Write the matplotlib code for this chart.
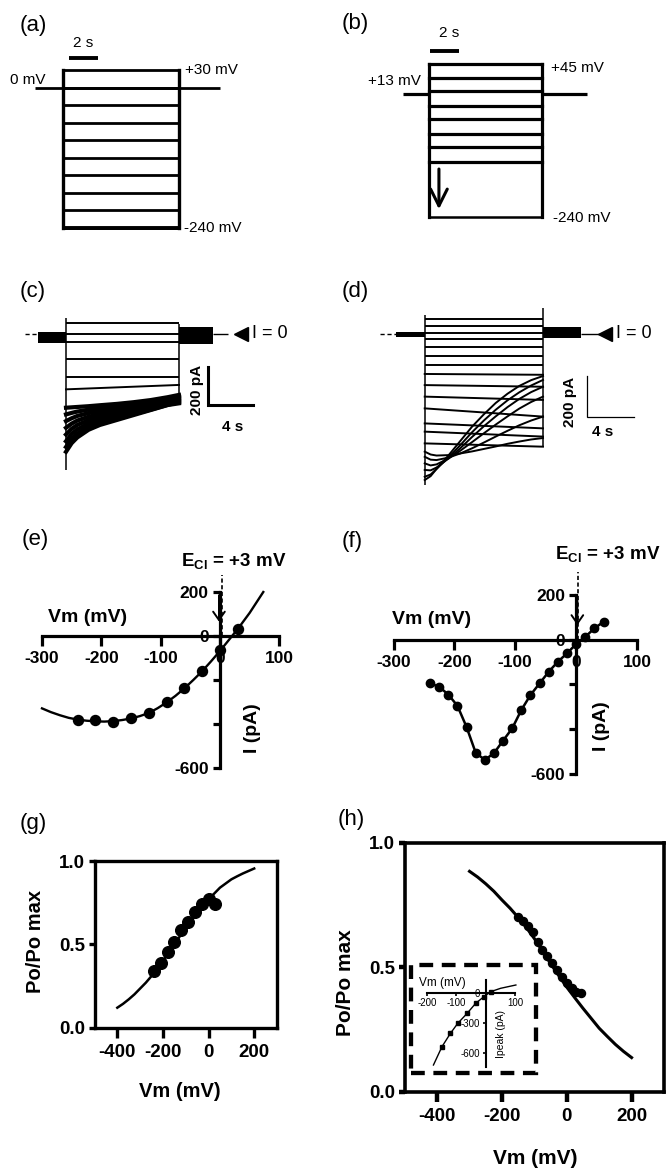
import matplotlib
matplotlib.use("Agg")
import matplotlib.pyplot as plt
from matplotlib.patches import Rectangle

W, H = 667, 1174
INK = "black"

# ---------------- values ----------------
# (a) step protocol from 0 mV holding, 30 mV steps
a_levels_mv = [30, 0, -30, -60, -90, -120, -150, -180, -210, -240]
a_hold_mv = 0
a_step_s = (0, 8)
a_hold_s = (-1.9, 10.8)

# (b) protocol from +13 mV holding (schematic, lines at their drawn height)
b_levels_mv = [45, 19, -6, -33, -58, -86, -110, -138, -240]
b_hold_mv = -11
b_step_s = (0, 8)
b_hold_s = (-1.85, 11.15)

# (c) current traces, pA
c_flat_i = [56, 0, -40, -132, -223]
c_slow_i = (-289, -266)
c_t = [0, 0.5, 1, 2, 3, 4.5, 6, 7.5, 9, 10]
c_decay_i = [
    [-385, -383, -381, -377, -372, -365, -356, -345, -330, -318],
    [-420, -412, -405, -395, -387, -377, -366, -353, -337, -325],
    [-455, -440, -428, -413, -402, -390, -378, -362, -345, -332],
    [-490, -468, -452, -432, -418, -403, -389, -372, -353, -338],
    [-525, -495, -475, -450, -434, -416, -400, -381, -360, -344],
    [-560, -522, -498, -468, -449, -429, -411, -389, -366, -350],
    [-590, -548, -520, -485, -463, -440, -418, -395, -370, -356],
    [-615, -570, -540, -500, -475, -449, -423, -397, -371, -362],
]
c_edges_i = [(84, -710), (50, -362)]
c_hold_band = (-47, 10)
c_tail_band = (-54, 38)

# (d) current traces, pA
d_flat_i = [71, 39, 3, -26, -65, -107, -150]
d_slow_i = [(-194, -198), (-248, -256), (-304, -320), (-361, -401),
            (-434, -458), (-474, -498), (-531, -547)]
d_t = [0, 0.5, 1, 2, 3, 4, 5, 6, 7, 8, 9, 10]
d_inact_i = [
    [-709, -690, -655, -590, -520, -450, -390, -335, -290, -252, -224, -204],
    [-693, -682, -655, -600, -540, -477, -420, -368, -322, -283, -250, -223],
    [-660, -662, -648, -605, -555, -500, -448, -400, -355, -315, -282, -256],
    [-628, -638, -633, -605, -567, -525, -482, -440, -400, -362, -330, -304],
    [-596, -610, -612, -600, -580, -555, -527, -498, -470, -443, -420, -401],
    [-571, -585, -590, -588, -580, -570, -558, -546, -533, -522, -512, -505],
]
d_edges_i = [(92, -733), (126, -549)]
d_hold_band = (-13, 11)
d_tail_band = (-19, 34)

# (e) I-V, 30 mV steps
e_vm = [-240, -210, -180, -150, -120, -90, -60, -30, 0, 30]
e_i = [-382, -382, -389, -374, -351, -298, -238, -159, -64, 32]
e_fit_vm = [-300, -285, -270, -255, -240, -225, -210, -195, -180, -165, -150,
            -135, -120, -105, -90, -75, -60, -45, -30, -15, 0, 15, 30, 50, 73]
e_fit_i = [-329, -346, -360, -372, -380, -385, -388, -389, -387, -382, -375,
           -364, -350, -328, -302, -272, -238, -200, -160, -115, -68, -18, 32,
           105, 200]

# (f) I-V, 15 mV steps
f_vm = [-240, -225, -210, -195, -180, -165, -150, -135, -120, -105,
        -90, -75, -60, -45, -30, -15, 0, 15, 30, 45]
f_i = [-195, -210, -245, -295, -390, -505, -537, -507, -451, -396,
       -314, -247, -195, -143, -98, -61, -19, 13, 51, 80]

e_cl_mv = 3
iv_xticks = [-300, -200, -100, 0, 100]
iv_yticks = [-600, -400, -200, 0, 200]
iv_ylabels = ["-600", "", "", "0", "200"]

# (g) Po/Po max
g_vm = [-240, -210, -180, -150, -120, -90, -60, -30, 0, 30]
g_po = [0.34, 0.39, 0.455, 0.515, 0.585, 0.635, 0.695, 0.745, 0.775, 0.745]
g_fit_vm = [-400, -375, -350, -325, -300, -275, -250, -225, -200, -175, -150,
            -125, -100, -75, -50, -25, 0, 25, 50, 75, 100, 125, 150, 175, 200]
g_fit_po = [0.12, 0.143, 0.17, 0.20, 0.235, 0.27, 0.31, 0.355, 0.40, 0.45, 0.50,
            0.55, 0.60, 0.645, 0.69, 0.73, 0.77, 0.805, 0.84, 0.865, 0.89, 0.908,
            0.925, 0.94, 0.955]

# (h) Po/Po max
h_vm = [-150, -135, -120, -105, -90, -75, -60, -45, -30, -15, 0, 15, 30, 45]
h_po = [0.70, 0.685, 0.665, 0.64, 0.60, 0.57, 0.545, 0.515, 0.49, 0.46,
        0.435, 0.415, 0.40, 0.395]
h_fit_vm = [-300, -275, -250, -225, -200, -175, -150, -125, -100, -75, -50, -25,
            0, 25, 50, 75, 100, 125, 150, 175, 200]
h_fit_po = [0.885, 0.862, 0.835, 0.805, 0.77, 0.737, 0.70, 0.66, 0.615, 0.565,
            0.515, 0.467, 0.42, 0.377, 0.335, 0.295, 0.255, 0.222, 0.19, 0.162,
            0.137]

# (h) inset: peak current
inset_vm = [-178, -149, -120, -95, -63, -34, -6, 17, 51, 103]
inset_i = [-723, -540, -406, -306, -206, -106, -40, 10, 44, 77]

po_xticks = [-400, -200, 0, 200]
po_yticks = [0.0, 0.5, 1.0]
po_ylabels = ["0.0", "0.5", "1.0"]

plt.rcParams.update({
    "font.family": ["Liberation Sans", "DejaVu Sans"],
    "axes.unicode_minus": False,
    "lines.color": INK,
    "mathtext.fontset": "custom",
    "mathtext.rm": "Liberation Sans",
    "mathtext.bf": "Liberation Sans:bold",
})

fig = plt.figure(figsize=(W / 100, H / 100), dpi=100)
NC = dict(clip_on=False)


def px_axes(x0, y0, x1, y1, xlim, ylim):
    # pixel box measured from the top-left corner of the figure
    ax = fig.add_axes([x0 / W, 1 - y1 / H, (x1 - x0) / W, (y1 - y0) / H])
    ax.set_xlim(*xlim)
    ax.set_ylim(*ylim)
    ax.patch.set_alpha(0)
    return ax


def letter(x, y, s):
    fig.text(x / W, 1 - y / H, s, ha="center", va="center", fontsize=16)


def bold_ticks(ax):
    for lab in ax.get_xticklabels() + ax.get_yticklabels():
        lab.set_fontweight("bold")


# ---------------- (a) ----------------
ax = px_axes(34, 70, 222.5, 227.5, (-2, 11), (-240, 30))
ax.axis("off")
ax.hlines(a_levels_mv, *a_step_s, colors=INK, lw=2.0, capstyle="projecting", **NC)
ax.hlines(a_levels_mv[-1], *a_step_s, colors=INK, lw=2.8, **NC)
ax.vlines(a_step_s, min(a_levels_mv), max(a_levels_mv), colors=INK, lw=2.4,
          capstyle="projecting", **NC)
ax.hlines(a_hold_mv, *a_hold_s, colors=INK, lw=2.0, **NC)
ax.plot([0.4, 2.4], [50, 50], color=INK, lw=2.8, solid_capstyle="butt", **NC)
ax.text(1.4, 77, "2 s", ha="center", va="center", fontsize=11)
ax.text(-3.66, 13, "0 mV", ha="left", va="center", fontsize=11)
ax.text(8.41, 30, "+30 mV", ha="left", va="center", fontsize=11)
ax.text(8.34, -240, "-240 mV", ha="left", va="center", fontsize=11)
letter(33, 26, "(a)")

# ---------------- (b) ----------------
ax = px_axes(400.7, 64, 587.6, 216.7, (-2, 11.2), (-240, 45))
ax.axis("off")
ax.hlines(b_levels_mv[:-1], *b_step_s, colors=INK, lw=2.3, capstyle="projecting", **NC)
ax.hlines(b_levels_mv[-1], *b_step_s, colors=INK, lw=1.8, capstyle="projecting", **NC)
ax.vlines(b_step_s, min(b_levels_mv), max(b_levels_mv), colors=INK, lw=2.3,
          capstyle="projecting", **NC)
ax.hlines(b_hold_mv, b_hold_s[0], b_step_s[0], colors=INK, lw=2.3, **NC)
ax.hlines(b_hold_mv, b_step_s[1], b_hold_s[1], colors=INK, lw=2.3, **NC)
ax.plot([0.1, 2.1], [69, 69], color=INK, lw=2.8, solid_capstyle="butt", **NC)
ax.text(1.4, 103, "2 s", ha="center", va="center", fontsize=11)
ax.text(-0.6, 13, "+13 mV", ha="right", va="center", fontsize=11)
ax.text(8.6, 37, "+45 mV", ha="left", va="center", fontsize=11)
ax.text(8.76, -243, "-240 mV", ha="left", va="center", fontsize=11)
ax.annotate("", xy=(0.7, -226), xytext=(0.7, -151), annotation_clip=False,
            arrowprops=dict(arrowstyle="->,head_length=1.2,head_width=0.6",
                            lw=2.2, color=INK, shrinkA=0, shrinkB=0))
letter(355, 24, "(b)")


# ---------------- (c) / (d) traces ----------------
def trace_panel(box, xlim, flat, slow, t, curves, edges, hold_band, hold_t,
                tail_band, tail_t, base_t, tri_t, txt_t, bar, bar_lw, curve_lw):
    ax = px_axes(*box, xlim, (-800, 100))
    ax.axis("off")
    ax.hlines(0, base_t[0], hold_t[0], colors=INK, lw=1.0, linestyles=(0, (3, 2)), **NC)
    ax.hlines(0, tail_t[1], base_t[1], colors=INK, lw=1.0, **NC)
    ax.fill_between(hold_t, *hold_band, color=INK, lw=0, **NC)
    ax.fill_between(tail_t, *tail_band, color=INK, lw=0, **NC)
    ax.hlines(flat, 0, 10, colors=INK, lw=1.4, **NC)
    for s0, s1 in slow:
        ax.plot([0, 10], [s0, s1], color=INK, lw=1.4, **NC)
    for tr in curves:
        ax.plot(t, tr, color=INK, lw=curve_lw, **NC)
    ax.vlines(0, edges[0][1], edges[0][0], colors=INK, lw=1.1, **NC)
    ax.vlines(10, edges[1][1], edges[1][0], colors=INK, lw=1.1, **NC)
    ax.plot(tri_t, 0, marker="<", ms=9.5, color=INK, **NC)
    ax.text(txt_t, 0, "I = 0", ha="left", va="center", fontsize=13)
    bx, by, tx_lab, ty_lab, tx_s, ty_s = bar
    ax.plot([bx, bx, bx + 4], [by + 200, by, by], color=INK, lw=bar_lw,
            solid_joinstyle="miter", **NC)
    ax.text(tx_lab, ty_lab, "200 pA", rotation=90, ha="center", va="center",
            fontsize=11, fontweight="bold")
    ax.text(tx_s, ty_s, "4 s", ha="center", va="center", fontsize=11,
            fontweight="bold")
    return ax


trace_panel((20.8, 314.85, 246.8, 487.2), (-4, 16), c_flat_i, [c_slow_i], c_t,
            c_decay_i, c_edges_i, c_hold_band, (-2.5, 0), c_tail_band, (10, 13.0),
            (-3.63, 14.3), 15.53, 16.46, (12.54, -371, 11.57, -292, 14.78, -484),
            2.2, 3.0)
letter(33, 291, "(c)")

trace_panel((377.4, 313.4, 637.6, 498.8), (-4, 18), d_flat_i, d_slow_i, d_t,
            d_inact_i, d_edges_i, d_hold_band, (-2.43, 0), d_tail_band, (10, 13.2),
            (-3.78, 14.82), 15.28, 16.17, (13.72, -404, 12.28, -329, 15.07, -474),
            0.9, 1.4)
letter(355, 291, "(d)")


# ---------------- (e) / (f) I-V ----------------
def iv_panel(box, fit_vm, fit_i, vm, cur, ms, ecl_text_xy, arrow_x, dash_top,
             vm_xy, i_xy, connect):
    ax = px_axes(*box, (-300, 100), (-600, 200))
    for s in ("top", "right"):
        ax.spines[s].set_visible(False)
    for s in ("left", "bottom"):
        ax.spines[s].set_position(("data", 0))
        ax.spines[s].set_linewidth(2.3)
    ax.set_xticks(iv_xticks)
    ax.set_xticklabels([str(v) for v in iv_xticks])
    ax.set_yticks(iv_yticks)
    ax.set_yticklabels(iv_ylabels)
    ax.tick_params(axis="x", length=7, width=2.3, pad=4, labelsize=12.5)
    ax.tick_params(axis="y", length=5, width=2.3, pad=3, labelsize=12.5)
    bold_ticks(ax)
    if connect:
        ax.plot(vm, cur, "-o", color=INK, lw=1.8, ms=ms, zorder=3, **NC)
    else:
        ax.plot(fit_vm, fit_i, color=INK, lw=1.7, zorder=3, **NC)
        ax.plot(vm, cur, "o", color=INK, ms=ms, zorder=4, **NC)
    ax.plot([e_cl_mv, e_cl_mv], [0, dash_top], color=INK, lw=1.2,
            ls=(0, (2.5, 1.5)), **NC)
    ax.annotate("", xy=(arrow_x, 65), xytext=(arrow_x, 185), annotation_clip=False,
                arrowprops=dict(arrowstyle="->,head_length=0.6,head_width=0.42",
                                lw=1.4, color=INK, shrinkA=0, shrinkB=0))
    ax.text(*ecl_text_xy, r"$\mathbf{E}_{\mathbf{Cl}}$ = +3 mV", ha="left",
            va="center", fontsize=13.5, fontweight="bold")
    ax.text(*vm_xy, "Vm (mV)", ha="center", va="center", fontsize=14,
            fontweight="bold")
    ax.text(*i_xy, "I (pA)", ha="center", va="center", rotation=90,
            fontsize=14, fontweight="bold")
    return ax


iv_panel((42, 592, 279.3, 768), e_fit_vm, e_fit_i, e_vm, e_i, 7.2,
         (-66, 336), -1.7, 277, (-223, 86), (54, -418), False)
letter(35, 539, "(e)")

iv_panel((393.5, 595, 637, 774), None, None, f_vm, f_i, 6.0,
         (-35, 378), 2, 304, (-238, 92), (42, -384), True)
letter(352, 541, "(f)")


# ---------------- (g) / (h) Po/Po max ----------------
def po_panel(box, lw, tick_w, size, label_size, ylab_xy, xlab_xy):
    ax = px_axes(*box, (-500, 300), (0, 1))
    for s in ax.spines.values():
        s.set_linewidth(lw)
    ax.set_xticks(po_xticks)
    ax.set_xticklabels([str(v) for v in po_xticks])
    ax.set_yticks(po_yticks)
    ax.set_yticklabels(po_ylabels)
    ax.tick_params(axis="x", length=7, width=tick_w, pad=5, labelsize=size)
    ax.tick_params(axis="y", length=4, width=tick_w, pad=3, labelsize=size)
    bold_ticks(ax)
    ax.text(*ylab_xy, "Po/Po max", transform=ax.transAxes, rotation=90,
            ha="center", va="center", fontsize=label_size, fontweight="bold")
    ax.text(*xlab_xy, "Vm (mV)", transform=ax.transAxes, ha="center",
            va="center", fontsize=label_size, fontweight="bold")
    return ax


ax = po_panel((94.5, 861, 277, 1027.7), 2.4, 2.4, 13.5, 14.5, (-0.326, 0.516),
              (0.468, -0.38))
ax.plot(g_fit_vm, g_fit_po, color=INK, lw=1.8)
ax.plot(g_vm, g_po, "o", color=INK, ms=8.4, zorder=3, **NC)
letter(33, 823, "(g)")

ax = po_panel((404.7, 842.7, 664, 1091.7), 2.6, 3.2, 13.5, 15, (-0.23, 0.437),
              (0.504, -0.27))
ax.plot(h_fit_vm, h_fit_po, color=INK, lw=2.2)
ax.plot(h_vm, h_po, "o", color=INK, ms=5.8, zorder=3, **NC)
ax.add_patch(Rectangle((-481.6, 0.075), 387.6, 0.434, fill=False, ec=INK,
                       lw=3.1, ls=(0, (3.2, 2.0)), clip_on=False, zorder=2))
letter(351, 819, "(h)")

# inset of (h)
axi = px_axes(427, 979.7, 515, 1066.7, (-200, 100), (-740, 130))
for s in ("top", "right"):
    axi.spines[s].set_visible(False)
for s in ("left", "bottom"):
    axi.spines[s].set_position(("data", 0))
    axi.spines[s].set_linewidth(1.5)
axi.set_xticks([-200, -100, 0, 100])
axi.set_xticklabels(["-200", "-100", "", "100"])
axi.set_yticks([-600, -300, 0])
axi.set_yticklabels(["-600", "-300", "0"])
axi.tick_params(length=2.5, width=1.2, pad=1.5, labelsize=7)
axi.plot(inset_vm, inset_i, color=INK, lw=1.0, **NC)
axi.plot(inset_vm[1:8], inset_i[1:8], "s", color=INK, ms=3, **NC)
axi.text(-227, 100, "Vm (mV)", ha="left", va="center", fontsize=8.5)
axi.text(52, -410, "Ipeak (pA)", rotation=90, ha="center", va="center",
         fontsize=7.5)

fig.savefig("out.png", dpi=100)
